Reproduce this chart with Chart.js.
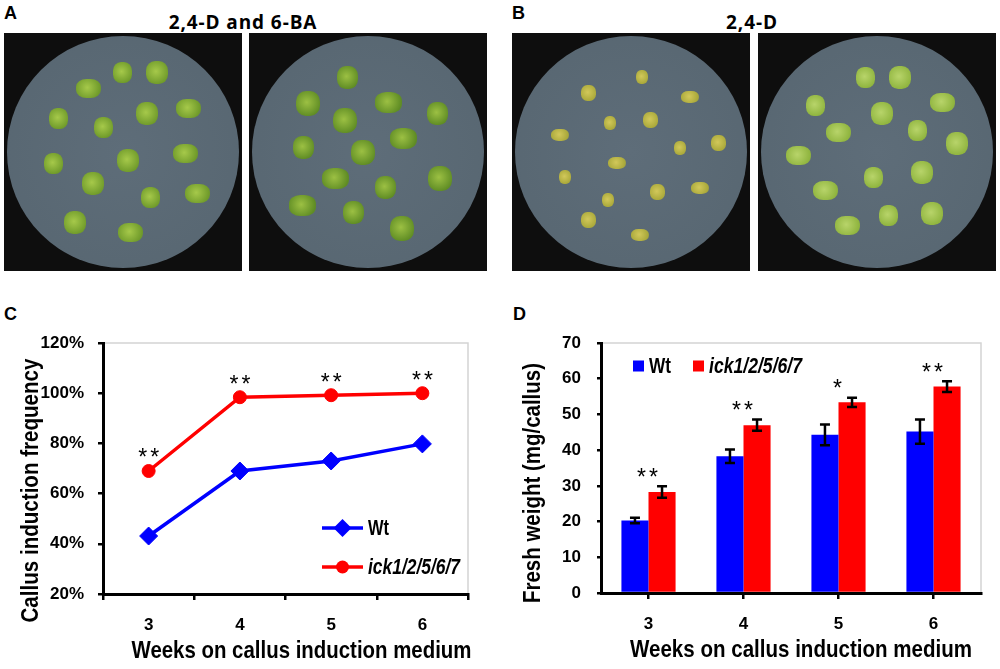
<!DOCTYPE html>
<html><head><meta charset="utf-8">
<script src="https://cdn.jsdelivr.net/npm/chart.js@4.4.0/dist/chart.umd.min.js"></script>
<style>
body{margin:0;background:#fff;width:1000px;height:669px;position:relative;overflow:hidden;font-family:'Liberation Sans',Arial,sans-serif}
.lbl{position:absolute;font-weight:bold;font-size:18px;line-height:18px;font-family:'Liberation Sans',Arial,sans-serif;color:#000}
.ttl{position:absolute;font-weight:bold;font-size:19px;line-height:19px;letter-spacing:0.9px;font-family:'Open Sans',sans-serif;transform:translateX(-50%);white-space:nowrap;color:#000}
.photo{position:absolute;top:33px;width:238px;height:238px;background:#0e0e0e;overflow:hidden}
.plate{position:absolute;left:3px;top:3px;width:232px;height:232px;border-radius:50%;
 background:radial-gradient(circle, #5e6d79 0%, #586772 80%, #7d8892 83%, #b9c0c5 84.5%, #6a7782 86%, #65727d 95%, #cfd4d8 98%, #7e878e 100%)}
.cal{position:absolute;border-radius:42%}
canvas{position:absolute}
</style></head>
<body>
<div class="lbl" style="left:4px;top:4px">A</div>
<div class="ttl" style="left:243px;top:13px">2,4-D and 6-BA</div>
<div class="lbl" style="left:512px;top:4px">B</div>
<div class="ttl" style="left:752px;top:13px">2,4-D</div>
<div class="photo" id="pA1" style="left:4px"><div class="plate"></div></div>
<div class="photo" id="pA2" style="left:249px"><div class="plate"></div></div>
<div class="photo" id="pB1" style="left:512px"><div class="plate"></div></div>
<div class="photo" id="pB2" style="left:758px"><div class="plate"></div></div>
<div class="lbl" style="left:4px;top:305px">C</div>
<div class="lbl" style="left:513px;top:305px">D</div>
<canvas id="cC" width="500" height="379" style="left:0;top:290px"></canvas>
<canvas id="cD" width="500" height="379" style="left:500px;top:290px"></canvas>
<script>
// ---------- data ----------
const weeks = ['3', '4', '5', '6'];
const seriesNames = ['Wt', 'ick1/2/5/6/7'];
// Panel C: callus induction frequency (%)
const freqWt  = [43.1, 69.0, 73.0, 79.8];
const freqIck = [69.0, 98.4, 99.2, 100.0];
const freqSig = ['**', '**', '**', '**'];
// Panel D: fresh weight (mg/callus)
const weightWt  = [20.3, 38.3, 44.3, 45.2];
const weightIck = [28.3, 47.0, 53.4, 57.8];
const errWt  = [0.8, 1.9, 2.9, 3.4];
const errIck = [1.6, 1.6, 1.3, 1.5];
const weightSig = ['**', '**', '*', '**'];
const freqAxis = {min: 20, max: 120, step: 20};
const weightAxis = {min: 0, max: 70, step: 10};
const xTitle = 'Weeks on callus induction medium';
const yTitleC = 'Callus induction frequency';
const yTitleD = 'Fresh weight (mg/callus)';

// ---------- photo decoration (not data) ----------
const calliA1 = [[118,39],[153,39],[84,55],[54,85],[143,80],[184,75],[99,94],[124,127],[181,120],[49,130],[89,150],[193,160],[146,164],[71,189],[126,199]];
const calliA2 = [[98,44],[59,70],[139,69],[188,80],[96,87],[154,105],[54,114],[114,119],[86,145],[136,154],[191,145],[53,172],[104,179],[153,195]];
const calliB1 = [[130,44],[76,60],[178,64],[98,90],[138,87],[48,102],[168,115],[206,110],[105,130],[53,144],[145,159],[188,155],[96,167],[76,187],[128,202]];
const calliB2 = [[107,44],[142,44],[184,69],[57,72],[124,80],[80,99],[159,97],[199,110],[40,122],[115,144],[164,139],[67,157],[130,182],[174,180],[89,192]];
function addCalli(id, list, size, c1, c2){
  const p = document.getElementById(id);
  list.forEach(([x,y],k)=>{
    const d = document.createElement('div');
    d.className='cal';
    const w = size + (k%3)*3, h = size + ((k+1)%3)*2;
    d.style.left=(x-w/2)+'px'; d.style.top=(y-h/2)+'px';
    d.style.width=w+'px'; d.style.height=h+'px';
    d.style.background='radial-gradient(circle at 45% 45%, '+c1+' 0%, '+c2+' 75%, rgba(0,0,0,0) 100%)';
    p.appendChild(d);
  });
}
addCalli('pA1', calliA1, 19, '#a6c94a', '#6f9a2a');
addCalli('pA2', calliA2, 21, '#9cc043', '#5f8c24');
addCalli('pB1', calliB1, 12, '#d2c85a', '#a9a83a');
addCalli('pB2', calliB2, 19, '#b8d46a', '#8fb43e');

// ---------- chart helpers ----------
const FONT = "'Liberation Sans',Arial,sans-serif";
const AX = {color:'#000', width:3};
const boxPlugin = {id:'box', beforeDraw(ch){
  const {ctx, chartArea:a} = ch; ctx.save();
  ctx.strokeStyle='#d4d4d4'; ctx.lineWidth=1.5;
  ctx.beginPath(); ctx.moveTo(a.left,a.top); ctx.lineTo(a.right,a.top); ctx.lineTo(a.right,a.bottom); ctx.stroke();
  ctx.restore();
}};
// draw text horizontally condensed to a given width (narrow-font look)
function narrowText(ctx, text, font, x, y, width, align, rot){
  ctx.save();
  ctx.font = font; ctx.fillStyle = '#000'; ctx.textBaseline = 'middle'; ctx.textAlign = align;
  const s = width / ctx.measureText(text).width;
  ctx.translate(x, y); if (rot) ctx.rotate(rot); ctx.scale(s, 1);
  ctx.fillText(text, 0, 0);
  ctx.restore();
}
function titles(xText, xW, xShift, yText, yW, yShift, yX){
  return {id:'titles', afterDraw(ch){
    const {ctx, chartArea:a} = ch;
    narrowText(ctx, xText, 'bold 24px '+FONT, (a.left+a.right)/2 + xShift, a.bottom+57, xW, 'center', 0);
    narrowText(ctx, yText, 'bold 24px '+FONT, yX, (a.top+a.bottom)/2 + yShift, yW, 'center', -Math.PI/2);
  }};
}
function drawStars(ctx, s, x, y){
  ctx.font = '23px '+FONT; ctx.fillStyle='#000'; ctx.textAlign='center'; ctx.textBaseline='middle';
  if (s.length === 1) { ctx.fillText('*', x, y+3); }
  else { ctx.fillText('*', x-6, y+3); ctx.fillText('*', x+6, y+3); }
}
function tickFont(){ return {family:FONT, size:17, weight:'bold'}; }

// ---------- Panel C ----------
new Chart(document.getElementById('cC'), {
  type:'line',
  data:{labels:weeks, datasets:[
    {label:seriesNames[0], data:freqWt, borderColor:'#0000ff', backgroundColor:'#0000ff', borderWidth:3.5,
     pointStyle:'rectRot', pointRadius:9, pointHoverRadius:9, pointBorderWidth:1, tension:0},
    {label:seriesNames[1], data:freqIck, borderColor:'#ff0000', backgroundColor:'#ff0000', borderWidth:3.5,
     pointStyle:'circle', pointRadius:6.5, pointHoverRadius:6.5, pointBorderWidth:1, tension:0}
  ]},
  options:{responsive:false, animation:false,
    layout:{padding:{left:0, top:53, right:32, bottom:0}},
    plugins:{legend:{display:false}, tooltip:{enabled:false}},
    scales:{
      x:{offset:true, grid:{offset:true, drawOnChartArea:false, tickLength:6, color:'#000', lineWidth:2.5},
         border:AX, ticks:{font:tickFont(), color:'#000', padding:15},
         afterFit:s=>{s.height=75;}},
      y:{min:freqAxis.min, max:freqAxis.max,
         ticks:{stepSize:freqAxis.step, callback:v=>v+'%', font:tickFont(), color:'#000', padding:14},
         grid:{drawOnChartArea:false, tickLength:5, color:'#000', lineWidth:2.5},
         border:AX, afterFit:s=>{s.width=103;}}
    }},
  plugins:[boxPlugin, titles(xTitle, 340, 16, yTitleC, 264, 22, 31),
    {id:'starsC', afterDatasetsDraw(ch){
      const ctx=ch.ctx, xs=ch.scales.x, ys=ch.scales.y; ctx.save();
      freqSig.forEach((s,i)=>drawStars(ctx, s, xs.getPixelForValue(i), ys.getPixelForValue(freqIck[i])-15));
      ctx.restore();
    }},
    {id:'legC', afterDraw(ch){
      const {ctx, chartArea:a} = ch; ctx.save();
      const rows=[{y:a.bottom-66, c:'#0000ff', st:'d', it:false, w:21},{y:a.bottom-27, c:'#ff0000', st:'c', it:true, w:92}];
      rows.forEach((r,i)=>{
        const x0=a.left+219, x1=a.left+260, xm=(x0+x1)/2;
        ctx.strokeStyle=r.c; ctx.fillStyle=r.c; ctx.lineWidth=3.5;
        ctx.beginPath(); ctx.moveTo(x0,r.y); ctx.lineTo(x1,r.y); ctx.stroke();
        ctx.beginPath();
        if(r.st==='d'){ ctx.moveTo(xm,r.y-9); ctx.lineTo(xm+9,r.y); ctx.lineTo(xm,r.y+9); ctx.lineTo(xm-9,r.y); ctx.closePath(); }
        else { ctx.arc(xm,r.y,6.5,0,Math.PI*2); }
        ctx.fill();
        narrowText(ctx, seriesNames[i], (r.it?'italic ':'')+'bold 22px '+FONT, x1+5, r.y+1, r.w, 'left', 0);
      });
      ctx.restore();
    }}]
});

// ---------- Panel D ----------
new Chart(document.getElementById('cD'), {
  type:'bar',
  data:{labels:weeks, datasets:[
    {label:seriesNames[0], data:weightWt, backgroundColor:'#0000ff', categoryPercentage:0.57, barPercentage:1.0},
    {label:seriesNames[1], data:weightIck, backgroundColor:'#ff0000', categoryPercentage:0.57, barPercentage:1.0}
  ]},
  options:{responsive:false, animation:false,
    layout:{padding:{left:0, top:53, right:19, bottom:0}},
    plugins:{legend:{display:false}, tooltip:{enabled:false}},
    scales:{
      x:{offset:true, grid:{offset:false, drawOnChartArea:false, tickLength:6, color:'#000', lineWidth:2.5},
         border:AX, ticks:{font:tickFont(), color:'#000', padding:15},
         afterFit:s=>{s.height=76;}},
      y:{min:weightAxis.min, max:weightAxis.max,
         ticks:{stepSize:weightAxis.step, font:tickFont(), color:'#000', padding:16},
         grid:{drawOnChartArea:false, tickLength:4, color:'#000', lineWidth:2.5},
         border:AX, afterFit:s=>{s.width=101;}}
    }},
  plugins:[boxPlugin, titles(xTitle, 342, 10, yTitleD, 240, 15, 33),
    {id:'errD', afterDatasetsDraw(ch){
      const ctx=ch.ctx, ys=ch.scales.y; ctx.save();
      ctx.strokeStyle='#000'; ctx.lineWidth=2.5;
      [[weightWt,errWt],[weightIck,errIck]].forEach(([vals,errs],d)=>{
        ch.getDatasetMeta(d).data.forEach((bar,i)=>{
          const x=bar.x, yT=ys.getPixelForValue(vals[i]+errs[i]), yB=ys.getPixelForValue(vals[i]-errs[i]);
          ctx.beginPath(); ctx.moveTo(x,yT); ctx.lineTo(x,yB);
          ctx.moveTo(x-5,yT); ctx.lineTo(x+5,yT); ctx.moveTo(x-5,yB); ctx.lineTo(x+5,yB); ctx.stroke();
        });
      });
      const xs=ch.scales.x;
      weightSig.forEach((s,i)=>drawStars(ctx, s, xs.getPixelForValue(i)-1, ys.getPixelForValue(weightIck[i]+errIck[i])-11));
      ctx.restore();
    }},
    {id:'legD', afterDraw(ch){
      const {ctx, chartArea:a} = ch; ctx.save();
      const y=a.top+23;
      const items=[{x:a.left+32, c:'#0000ff', it:false, w:22},{x:a.left+92, c:'#ff0000', it:true, w:93}];
      items.forEach((it,i)=>{
        ctx.fillStyle=it.c; ctx.fillRect(it.x, y-5.5, 11, 11);
        narrowText(ctx, seriesNames[i], (it.it?'italic ':'')+'bold 22px '+FONT, it.x+16, y+1, it.w, 'left', 0);
      });
      ctx.restore();
    }}]
});
</script>
</body></html>
